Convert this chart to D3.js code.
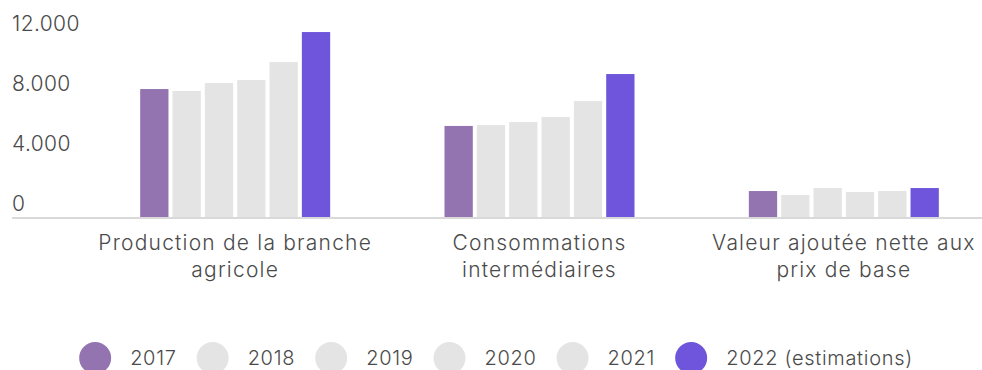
<!DOCTYPE html>
<html>
<head>
<meta charset="utf-8">
<script src="https://cdn.jsdelivr.net/npm/d3@7"></script>
<style>
  html, body { margin: 0; padding: 0; background: #fff; }
  svg { display: block; }
  text { font-family: Inter, "Open Sans", sans-serif; font-weight: 300; fill: #4a4a4a; }
</style>
</head>
<body>
<svg id="chart" width="982" height="370"></svg>
<script>
// Categories (two-line labels) and yearly series, values in millions of euros
const categories = [
  ["Production de la branche", "agricole"],
  ["Consommations", "intermédiaires"],
  ["Valeur ajoutée nette aux", "prix de base"]
];
const years = ["2017", "2018", "2019", "2020", "2021", "2022 (estimations)"];
const v2017 = [8530, 6070, 1730];
const v2018 = [8400, 6130, 1470];
const v2019 = [8930, 6330, 1930];
const v2020 = [9130, 6670, 1670];
const v2021 = [10330, 7730, 1730];
const v2022 = [12330, 9530, 1930];
const yTicks = [0, 4000, 8000, 12000];
const colors = ["#9373b0", "#e4e4e4", "#e4e4e4", "#e4e4e4", "#e4e4e4", "#6e55db"];

const series = [v2017, v2018, v2019, v2020, v2021, v2022];
const catKeys = categories.map(c => c.join(" "));

const svg = d3.select("#chart");

const x0 = d3.scaleBand().domain(catKeys).range([83, 996]).padding(0);
const x1 = d3.scaleBand().domain(years).range([-95, 95]).paddingInner(0.125);
const y = d3.scaleLinear().domain([0, 12000]).range([217, 37]);

const fmt = d3.formatLocale({ decimal: ",", thousands: ".", grouping: [3], currency: ["", " €"] }).format(",d");

// Y axis: labels sit left-aligned just above their (hidden) grid lines
const yAxis = svg.append("g")
  .attr("transform", "translate(12,0)")
  .call(d3.axisLeft(y).tickValues(yTicks).tickFormat(fmt).tickSize(0));
yAxis.select(".domain").remove();
yAxis.selectAll("text")
  .attr("x", 0).attr("dy", null).attr("y", -7)
  .attr("text-anchor", "start")
  .attr("font-family", null)
  .attr("font-size", 21)
  .style("letter-spacing", "0.4px");

// Bars
const groups = svg.append("g").selectAll("g")
  .data(catKeys)
  .join("g")
  .attr("transform", d => `translate(${x0(d) + x0.bandwidth() / 2},0)`);

groups.selectAll("rect")
  .data((d, ci) => series.map((s, si) => ({ year: years[si], value: s[ci], color: colors[si] })))
  .join("rect")
  .attr("x", d => x1(d.year))
  .attr("width", x1.bandwidth())
  .attr("y", d => y(d.value))
  .attr("height", d => y(0) - y(d.value))
  .attr("fill", d => d.color);

// Baseline
svg.append("line")
  .attr("x1", 12).attr("x2", 982)
  .attr("y1", y(0) + 1).attr("y2", y(0) + 1)
  .attr("stroke", "#d9d9d9").attr("stroke-width", 2);

// Category axis with two-line labels
const xAxis = svg.append("g")
  .attr("transform", `translate(0,${y(0)})`)
  .call(d3.axisBottom(x0).tickSize(0));
xAxis.select(".domain").remove();
xAxis.selectAll("text")
  .attr("font-family", null)
  .attr("font-size", 21)
  .attr("dy", null).attr("y", 0)
  .style("letter-spacing", "1.2px")
  .each(function (d, i) {
    const t = d3.select(this).text(null);
    categories[i].forEach((line, li) => {
      t.append("tspan").attr("x", 0).attr("y", 33 + li * 27).text(line);
    });
  });

// Legend: circle markers followed by labels, centred as one row
const legend = svg.append("g").attr("transform", "translate(0,358)");
const items = legend.selectAll("g").data(years).join("g");
items.append("circle").attr("r", 16).attr("cx", 16).attr("cy", 0)
  .attr("fill", (d, i) => colors[i]);
items.append("text").attr("x", 51).attr("y", 7)
  .attr("font-size", 20)
  .style("letter-spacing", "0.7px")
  .text(d => d);
let cursor = 0;
const widths = [];
items.each(function () {
  widths.push(this.getBBox().width);
});
items.attr("transform", (d, i) => {
  const tx = cursor;
  cursor += widths[i] + 20;
  return `translate(${tx},0)`;
});
const total = cursor - 20;
legend.attr("transform", `translate(${496 - total / 2},358)`);
</script>
</body>
</html>
